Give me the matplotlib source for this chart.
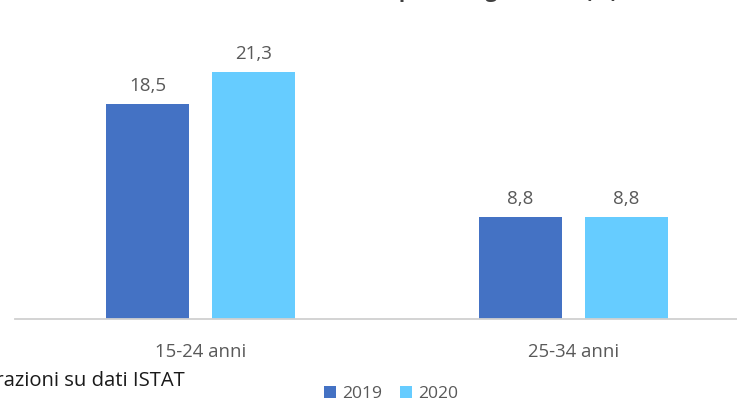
import matplotlib
matplotlib.use("Agg")
import matplotlib.pyplot as plt
from matplotlib.patches import Patch
import numpy as np

# Data
categories = ["15-24 anni", "25-34 anni"]
years = ["2019", "2020"]
values_2019 = [18.5, 8.8]
values_2020 = [21.3, 8.8]

colors = {"2019": "#4472C4", "2020": "#66CCFF"}
text_color = "#595959"
font = ["Open Sans", "DejaVu Sans"]

W, H, DPI = 737, 405, 100
fig = plt.figure(figsize=(W / DPI, H / DPI), dpi=DPI)

# Axes placed in pixel units
ax_left, ax_right = 14.5, 759.5
ax_bottom = H - 319
ymax = 25
px_per_unit = 11.6
ax_height = ymax * px_per_unit
ax = fig.add_axes([ax_left / W, ax_bottom / H, (ax_right - ax_left) / W, ax_height / H])

x = np.arange(len(categories))
width = 0.223
offset = 0.142

series = [("2019", values_2019, -offset), ("2020", values_2020, offset)]
for name, vals, off in series:
    bars = ax.bar(x + off, vals, width=width, color=colors[name], zorder=2)
    for b, v in zip(bars, vals):
        ax.annotate(f"{v:.1f}".replace(".", ","),
                    (b.get_x() + b.get_width() / 2, v),
                    xytext=(0, 9.4), textcoords="offset points",
                    ha="center", va="baseline", fontsize=13.5,
                    color=text_color, family=font)

ax.set_xlim(-0.5, 1.5)
ax.set_ylim(0, ymax)
ax.set_xticks(x)
ax.set_xticklabels(categories, fontsize=13.3, color=text_color, family=font)
ax.tick_params(axis="x", length=0, pad=17)
ax.set_yticks([])
for side in ["top", "right", "left"]:
    ax.spines[side].set_visible(False)
ax.spines["bottom"].set_color("#D0D0D0")
ax.spines["bottom"].set_linewidth(1.3)
ax.patch.set_alpha(0)

# Title (runs off the top edge)
fig.text(618 / W, 1.0 + 3 / H, "Tasso di disoccupazione giovanile (%)",
         ha="right", va="baseline", fontsize=15, fontweight="bold",
         color="#404040", family=font)

# Source note
fig.text(185 / W, 1 - 381 / H, "Fonte: elaborazioni su dati ISTAT",
         ha="right", va="center", fontsize=14.6, color="#1a1a1a", family=font)

# Legend
handles = [Patch(facecolor=colors[y], edgecolor="none") for y in years]
leg = fig.legend(handles, years, loc="center", bbox_to_anchor=(391 / W, 1 - 394 / H),
                 ncol=2, frameon=False, handlelength=0.7,
                 handleheight=0.7, handletextpad=0.35, columnspacing=1.0,
                 prop={"family": font, "size": 12.6})
for t in leg.get_texts():
    t.set_color(text_color)

fig.savefig("out.png", dpi=DPI)
